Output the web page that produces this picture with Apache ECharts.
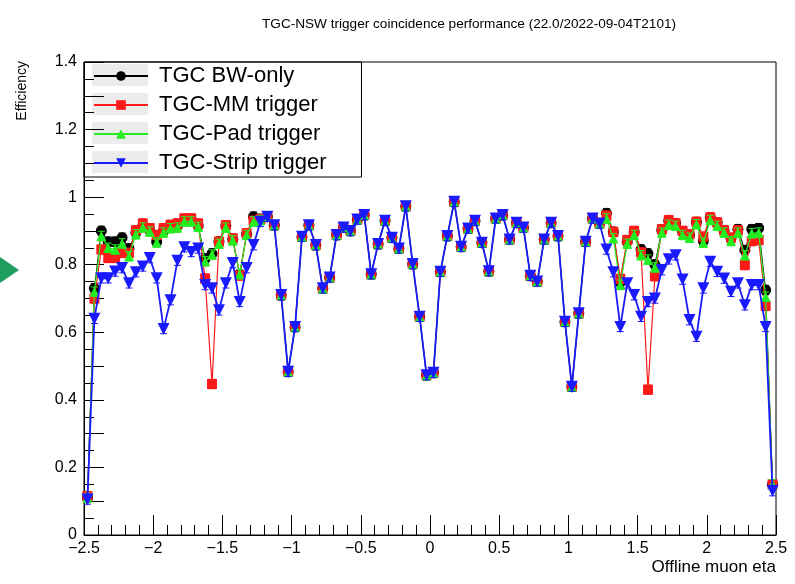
<!DOCTYPE html>
<html>
<head>
<meta charset="utf-8">
<script src="https://cdn.jsdelivr.net/npm/echarts@6/dist/echarts.min.js"></script>
<style>
  html, body { margin: 0; padding: 0; background: #fff; }
  #main { width: 795px; height: 584px; }
</style>
</head>
<body>
<div id="main"></div>
<script>
// histogram binning in offline muon eta: 100 bins of 0.05 from -2.5 to 2.5
var etaMin = -2.5, binWidth = 0.05, nBins = 100
var etaCenters = []
for (var i = 0; i < nBins; i++) etaCenters.push(+(etaMin + binWidth * (i + 0.5)).toFixed(3))

// |eta| < ~1.1 : every trigger gives the same efficiency (bins 28..71)
var central = [0.71, 0.483, 0.616, 0.883, 0.917, 0.858, 0.73, 0.762, 0.888, 0.91,
  0.9, 0.934, 0.947, 0.772, 0.861, 0.93, 0.88, 0.848, 0.973, 0.802,
  0.646, 0.473, 0.48, 0.779, 0.885, 0.986, 0.853, 0.907, 0.93, 0.865,
  0.781, 0.937, 0.947, 0.875, 0.924, 0.91, 0.767, 0.75, 0.875, 0.924,
  0.885, 0.631, 0.439, 0.656]

// negative side (bins 0..27)
var bwNeg = [0.11, 0.73, 0.90, 0.868, 0.868, 0.88, 0.848, 0.895, 0.915, 0.902,
  0.868, 0.90, 0.912, 0.915, 0.93, 0.93, 0.915, 0.818, 0.833, 0.868,
  0.915, 0.875, 0.772, 0.89, 0.942, 0.935, 0.942, 0.917]
var mmNeg = [0.115, 0.70, 0.845, 0.82, 0.82, 0.835, 0.835, 0.902, 0.922, 0.908,
  0.888, 0.908, 0.918, 0.922, 0.937, 0.937, 0.922, 0.759, 0.447, 0.868,
  0.917, 0.878, 0.768, 0.893, 0.93, 0.935, 0.942, 0.917]
var padNeg = [0.11, 0.72, 0.885, 0.85, 0.845, 0.863, 0.825, 0.89, 0.91, 0.898,
  0.866, 0.895, 0.908, 0.91, 0.928, 0.928, 0.912, 0.81, 0.83, 0.862,
  0.91, 0.872, 0.772, 0.888, 0.928, 0.932, 0.942, 0.917]
var stripNeg = [0.105, 0.64, 0.76, 0.76, 0.78, 0.79, 0.745, 0.778, 0.795, 0.82,
  0.76, 0.61, 0.695, 0.812, 0.852, 0.838, 0.848, 0.74, 0.73, 0.665,
  0.745, 0.805, 0.69, 0.79, 0.858, 0.927, 0.942, 0.917]

// positive side (bins 72..99)
var bwPos = [0.868, 0.937, 0.922, 0.952, 0.897, 0.748, 0.868, 0.897, 0.845, 0.833,
  0.80, 0.902, 0.93, 0.922, 0.898, 0.888, 0.926, 0.87, 0.94, 0.925,
  0.9, 0.878, 0.905, 0.843, 0.905, 0.908, 0.725, 0.15]
var mmPos = [0.868, 0.937, 0.922, 0.945, 0.897, 0.758, 0.873, 0.9, 0.836, 0.43,
  0.766, 0.905, 0.932, 0.922, 0.9, 0.89, 0.927, 0.883, 0.94, 0.925,
  0.902, 0.88, 0.902, 0.799, 0.87, 0.873, 0.678, 0.15]
var padPos = [0.868, 0.937, 0.922, 0.937, 0.878, 0.74, 0.862, 0.888, 0.828, 0.815,
  0.792, 0.895, 0.918, 0.915, 0.888, 0.88, 0.92, 0.865, 0.932, 0.915,
  0.895, 0.87, 0.895, 0.828, 0.893, 0.895, 0.705, 0.15]
var stripPos = [0.868, 0.937, 0.922, 0.845, 0.778, 0.616, 0.745, 0.71, 0.646, 0.69,
  0.70, 0.784, 0.816, 0.828, 0.756, 0.636, 0.587, 0.73, 0.809, 0.779,
  0.759, 0.72, 0.745, 0.68, 0.74, 0.74, 0.616, 0.13]

var bwEff = bwNeg.concat(central, bwPos)
var mmEff = mmNeg.concat(central, mmPos)
var padEff = padNeg.concat(central, padPos)
var stripEff = stripNeg.concat(central, stripPos)

var names = ['TGC BW-only', 'TGC-MM trigger', 'TGC-Pad trigger', 'TGC-Strip trigger']
var ERR = 0.014 // drawn size of the statistical error bars

function pairs(vals) {
  return vals.map(function (v, k) { return [etaCenters[k], v] })
}

function errBars(color) {
  return function (params, api) {
    var x = api.value(0), y = api.value(1)
    var top = api.coord([x, y + ERR]), bot = api.coord([x, y - ERR])
    var st = { stroke: color, lineWidth: 1 }
    return {
      type: 'group',
      children: [
        { type: 'line', shape: { x1: top[0], y1: top[1], x2: bot[0], y2: bot[1] }, style: st },
        { type: 'line', shape: { x1: top[0] - 3.5, y1: top[1], x2: top[0] + 3.5, y2: top[1] }, style: st },
        { type: 'line', shape: { x1: bot[0] - 3.5, y1: bot[1], x2: bot[0] + 3.5, y2: bot[1] }, style: st }
      ]
    }
  }
}

var styles = [
  { vals: bwEff, color: '#000000', symbol: 'circle', size: 11, rot: 0, lw: 1 },
  { vals: mmEff, color: '#ff1a1a', symbol: 'rect', size: 10, rot: 0, lw: 1.2 },
  { vals: padEff, color: '#22ee22', symbol: 'triangle', size: 10, rot: 0, lw: 1.2 },
  { vals: stripEff, color: '#1a1aff', symbol: 'triangle', size: 12, rot: 180, lw: 1.8 }
]

var series = []
styles.forEach(function (s, k) {
  series.push({
    type: 'custom',
    name: names[k] + ' err',
    renderItem: errBars(s.color),
    data: pairs(s.vals),
    z: 2 + k * 2,
    silent: true
  })
  series.push({
    type: 'line',
    name: names[k],
    data: pairs(s.vals),
    symbol: s.symbol,
    symbolSize: s.size,
    symbolRotate: s.rot,
    showAllSymbol: true,
    lineStyle: { color: s.color, width: s.lw },
    itemStyle: { color: s.color },
    z: 3 + k * 2
  })
})

var myChart = echarts.init(document.getElementById('main'))

var option = {
  animation: false,
  backgroundColor: '#fff',
  textStyle: { fontFamily: 'Liberation Sans, Arial, sans-serif' },
  title: {
    text: 'TGC-NSW trigger coincidence performance (22.0/2022-09-04T2101)',
    left: 257,
    top: 12,
    textStyle: { fontSize: 13.6, fontWeight: 'normal', color: '#000' }
  },
  grid: {
    left: 84, right: 19, top: 62, bottom: 49,
    show: true, borderColor: '#000', borderWidth: 1
  },
  legend: {
    data: names,
    orient: 'vertical',
    left: 84,
    top: 62,
    itemWidth: 54,
    itemHeight: 12,
    itemGap: 3,
    padding: [1, 35, 1, 9],
    borderColor: '#000',
    borderWidth: 1,
    backgroundColor: 'transparent',
    textStyle: { fontSize: 22, color: '#000', lineHeight: 26, padding: [0, 0, 0, 6] }
  },
  xAxis: {
    type: 'value',
    min: -2.5,
    max: 2.5,
    interval: 0.5,
    name: 'Offline muon eta',
    nameLocation: 'end',
    nameGap: 0,
    nameTextStyle: { fontSize: 17, color: '#000', align: 'right', verticalAlign: 'top', padding: [24, 0, 0, 0] },
    axisLine: { onZero: false, lineStyle: { color: '#000' } },
    axisTick: { inside: true, length: 20, lineStyle: { color: '#000' } },
    minorTick: { show: true, splitNumber: 5, length: 10, lineStyle: { color: '#000' } },
    splitLine: { show: false },
    axisLabel: {
      fontSize: 16, color: '#000', margin: 6,
      formatter: function (v) { return String(v).replace('-', '\u2212') }
    }
  },
  yAxis: {
    type: 'value',
    min: 0,
    max: 1.4,
    interval: 0.1,
    axisLine: { onZero: false, lineStyle: { color: '#000' } },
    axisTick: { inside: true, length: 20, lineStyle: { color: '#000' } },
    minorTick: { show: true, splitNumber: 2, length: 10, lineStyle: { color: '#000' } },
    splitLine: { show: false },
    axisLabel: {
      fontSize: 16, color: '#000', margin: 7,
      formatter: function (v) {
        var t = Math.round(v * 10)
        return t % 2 === 0 ? String(t / 10) : ''
      }
    }
  },
  graphic: [
    { type: 'text', x: 22, y: 61, rotation: Math.PI / 2,
      style: { text: 'Efficiency', font: '14px Liberation Sans, Arial, sans-serif', fill: '#000', align: 'right', verticalAlign: 'middle' } },
    { type: 'rect', shape: { x: 92, y: 64, width: 56, height: 22 }, style: { fill: '#ececec' }, z: -1 },
    { type: 'rect', shape: { x: 92, y: 93, width: 56, height: 22 }, style: { fill: '#ececec' }, z: -1 },
    { type: 'rect', shape: { x: 92, y: 122, width: 56, height: 22 }, style: { fill: '#ececec' }, z: -1 },
    { type: 'rect', shape: { x: 92, y: 151, width: 56, height: 22 }, style: { fill: '#ececec' }, z: -1 },
    { type: 'polygon', shape: { points: [[0, 257], [19, 270], [0, 283]] }, style: { fill: '#1f9e5e' } }
  ],
  series: series
}

myChart.setOption(option)
</script>
</body>
</html>
